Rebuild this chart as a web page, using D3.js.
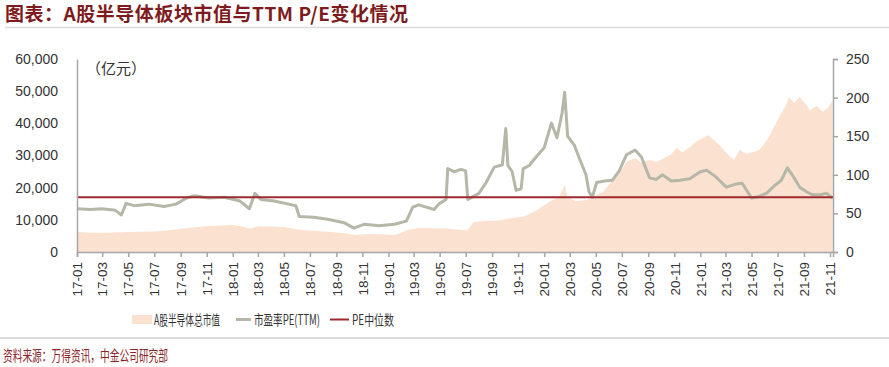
<!DOCTYPE html>
<html>
<head>
<meta charset="utf-8">
<script src="https://cdn.jsdelivr.net/npm/d3@7"></script>
<style>
  body { margin: 0; background: #fff; }
  svg text { font-family: "Liberation Sans", Arial, sans-serif; }
  .cjk { font-family: "Noto Sans CJK SC", sans-serif; }
</style>
</head>
<body>
<script>
// market cap of A-share semiconductor sector, 100m CNY (left axis)
var capDates = ['2017-01-01','2017-02-01','2017-03-01','2017-04-01','2017-05-01','2017-06-01','2017-07-01','2017-08-01',
  '2017-09-01','2017-10-01','2017-11-01','2017-12-01','2018-01-01','2018-01-20','2018-02-10','2018-03-01','2018-04-01',
  '2018-05-01','2018-06-15','2018-07-15','2018-08-15','2018-09-15','2018-10-15','2018-11-15','2018-12-15','2019-01-15',
  '2019-02-20','2019-03-15','2019-04-15','2019-05-15','2019-06-15','2019-07-05','2019-07-20','2019-08-15','2019-09-15',
  '2019-10-15','2019-11-15','2019-12-15','2020-01-01','2020-01-20','2020-02-05','2020-02-18','2020-02-25','2020-03-15',
  '2020-04-10','2020-05-01','2020-05-20','2020-06-09','2020-06-25','2020-07-12','2020-08-01','2020-08-15','2020-09-04',
  '2020-09-20','2020-10-09','2020-10-25','2020-11-06','2020-11-20','2020-12-07','2020-12-25','2021-01-19','2021-02-15',
  '2021-03-05','2021-03-21','2021-04-03','2021-04-20','2021-05-19','2021-06-05','2021-06-19','2021-07-05','2021-07-20',
  '2021-07-28','2021-08-09','2021-08-22','2021-09-05','2021-09-15','2021-10-01','2021-10-15','2021-10-28','2021-11-07'];
var capValues = [6200,6000,6000,6100,6200,6300,6400,6700,7200,7600,8000,8200,8400,8000,7300,7900,7900,
  7800,6800,6500,6300,5900,5300,5600,5500,5300,
  7000,7500,7400,7300,6900,6800,9300,9600,9800,
  10500,11000,13000,14500,16200,17000,20800,17100,15800,
  16200,17500,19000,22400,24500,28000,29200,27800,28600,
  28000,29200,30500,32300,31000,32600,34500,36400,33300,
  30500,28600,31700,30500,31700,34500,37900,42000,45500,
  48200,46300,48200,46000,44100,45500,43500,45000,47200];

// TTM P/E of the sector (right axis)
var peDates = ['2017-01-01','2017-02-01','2017-03-01','2017-04-01','2017-04-15','2017-04-26','2017-05-15','2017-06-18',
  '2017-07-24','2017-08-21','2017-09-15','2017-10-03','2017-11-06','2017-12-12','2018-01-18','2018-02-09','2018-02-22',
  '2018-03-08','2018-04-08','2018-05-12','2018-05-29','2018-06-06','2018-07-10','2018-08-15','2018-09-19','2018-10-12',
  '2018-11-06','2018-12-10','2019-01-15','2019-02-12','2019-02-27','2019-03-13','2019-04-18','2019-05-01','2019-05-16',
  '2019-05-20','2019-06-04','2019-06-20','2019-07-01','2019-07-06','2019-08-01','2019-08-18','2019-09-06','2019-09-25',
  '2019-10-03','2019-10-08','2019-10-18','2019-10-27','2019-11-08','2019-11-13','2019-11-27','2019-12-13','2020-01-01',
  '2020-01-18','2020-01-31','2020-02-12','2020-02-18','2020-02-25','2020-03-12','2020-03-23','2020-04-08','2020-04-15',
  '2020-04-23','2020-05-03','2020-05-21','2020-06-09','2020-06-25','2020-07-12','2020-08-01','2020-08-16','2020-09-04',
  '2020-09-20','2020-10-04','2020-10-25','2020-11-14','2020-12-07','2021-01-01','2021-01-16','2021-02-05','2021-03-03',
  '2021-03-25','2021-04-09','2021-05-01','2021-05-19','2021-06-05','2021-06-24','2021-07-10','2021-07-24','2021-08-09',
  '2021-08-22','2021-09-07','2021-09-21','2021-10-07','2021-10-24','2021-11-07'];
var peValues = [56,55,56,54,48,63,60,62,
  59,62,70,73,70,71,66,56,76,
  68,66,62,60,46,45,42,38,31,
  36,34,36,40,58,61,55,63,68,
  108,104,107,105,68,76,90,110,113,
  160,112,104,80,82,108,112,123,135,
  167,148,180,207,150,138,122,100,78,
  71,90,92,93,105,126,132,123,96,
  94,100,92,93,95,104,106,98,84,
  88,89,70,72,76,86,93,109,96,
  84,78,74,74,76,70];

var peMedian = 71;

var tickLabels = ['17-01','17-03','17-05','17-07','17-09','17-11','18-01','18-03','18-05','18-07','18-09','18-11',
  '19-01','19-03','19-05','19-07','19-09','19-11','20-01','20-03','20-05','20-07','20-09','20-11',
  '21-01','21-03','21-05','21-07','21-09','21-11'];
var leftTicks = [0, 10000, 20000, 30000, 40000, 50000, 60000];
var rightTicks = [0, 50, 100, 150, 200, 250];

var legendNames = ['A股半导体总市值', '市盈率PE(TTM)', 'PE中位数'];

var W = 889, H = 367;
var plotL = 77, plotR = 833, plotT = 59, plotB = 252;
var red = '#9E2A2F', gray = '#B5B8A8', peach = '#FBE1D0', axisColor = '#A6A6A6';

var parse = d3.timeParse('%Y-%m-%d');
var parseTick = d3.timeParse('%y-%m');

var cap = capDates.map(function (d, i) { return { date: parse(d), v: capValues[i] }; });
var pe = peDates.map(function (d, i) { return { date: parse(d), v: peValues[i] }; });

var svg = d3.select('body').append('svg').attr('width', W).attr('height', H);

var x = d3.scaleTime().domain([parse('2017-01-01'), parse('2021-11-08')]).range([plotL, plotR]);
var yL = d3.scaleLinear().domain([0, 60000]).range([plotB, plotT]);
var yR = d3.scaleLinear().domain([0, 250]).range([plotB, plotT]);

// title
svg.append('text').attr('class', 'cjk').attr('x', 5).attr('y', 21)
  .attr('font-size', 19).attr('font-weight', 'bold').attr('fill', '#7E1B20')
  .attr('textLength', 403).attr('lengthAdjust', 'spacing')
  .text('图表：A股半导体板块市值与TTM P/E变化情况');
svg.append('line').attr('x1', 5).attr('x2', W).attr('y1', 27.5).attr('y2', 27.5)
  .attr('stroke', '#DCDCDC').attr('stroke-width', 1.5);

// area
svg.append('path').datum(cap)
  .attr('fill', peach)
  .attr('d', d3.area().x(function (d) { return x(d.date); }).y0(plotB).y1(function (d) { return yL(d.v); }));

// pe line
svg.append('path').datum(pe)
  .attr('fill', 'none').attr('stroke', gray).attr('stroke-width', 3).attr('stroke-linejoin', 'round')
  .attr('d', d3.line().x(function (d) { return x(d.date); }).y(function (d) { return yR(d.v); }));

// median
svg.append('line').attr('x1', plotL).attr('x2', plotR)
  .attr('y1', yR(peMedian)).attr('y2', yR(peMedian))
  .attr('stroke', red).attr('stroke-width', 2);

// axes
var gL = svg.append('g').attr('transform', 'translate(' + plotL + ',0)')
  .call(d3.axisLeft(yL).tickValues(leftTicks).tickSize(0).tickPadding(19).tickFormat(d3.format(',')));
var gR = svg.append('g').attr('transform', 'translate(' + plotR + ',0)')
  .call(d3.axisRight(yR).tickValues(rightTicks).tickSize(5).tickPadding(8));
var gB = svg.append('g').attr('transform', 'translate(0,' + plotB + ')')
  .call(d3.axisBottom(x).tickValues(tickLabels.map(parseTick)).tickSize(5).tickPadding(4)
    .tickFormat(d3.timeFormat('%y-%m')));

[gL, gR, gB].forEach(function (g) {
  g.select('.domain').attr('stroke', axisColor).attr('stroke-width', 1.5);
  g.selectAll('.tick line').attr('stroke', axisColor).attr('stroke-width', 1.5);
  g.selectAll('text').attr('font-size', 14).attr('fill', '#333')
    .attr('font-family', '"Liberation Sans", Arial, sans-serif');
});
gB.selectAll('text').attr('font-size', 13.5)
  .attr('transform', 'rotate(-90)').attr('text-anchor', 'end')
  .attr('x', -10).attr('y', 0).attr('dy', '0.35em');

// unit label
svg.append('text').attr('class', 'cjk').attr('x', 86).attr('y', 74)
  .attr('font-size', 15).attr('fill', '#333').text('（亿元）');

// legend
var lg = svg.append('g');
lg.append('rect').attr('x', 132).attr('y', 315).attr('width', 20).attr('height', 9).attr('fill', peach);
lg.append('line').attr('x1', 236).attr('x2', 251).attr('y1', 319.5).attr('y2', 319.5)
  .attr('stroke', gray).attr('stroke-width', 3);
lg.append('line').attr('x1', 330).attr('x2', 349).attr('y1', 319.5).attr('y2', 319.5)
  .attr('stroke', red).attr('stroke-width', 2);
var legendX = [154, 254, 352], legendW = [66, 66, 42];
legendNames.forEach(function (n, i) {
  lg.append('text').attr('class', 'cjk').attr('x', legendX[i]).attr('y', 325)
    .attr('font-size', 14).attr('fill', '#333')
    .attr('textLength', legendW[i]).attr('lengthAdjust', 'spacingAndGlyphs').text(n);
});

// footer
svg.append('line').attr('x1', 0).attr('x2', W).attr('y1', 338).attr('y2', 338)
  .attr('stroke', '#DCDCDC').attr('stroke-width', 2);
svg.append('text').attr('class', 'cjk').attr('x', 3).attr('y', 361)
  .attr('font-size', 15).attr('fill', '#8A2428')
  .attr('textLength', 165).attr('lengthAdjust', 'spacingAndGlyphs')
  .text('资料来源：万得资讯，中金公司研究部');
</script>
</body>
</html>
